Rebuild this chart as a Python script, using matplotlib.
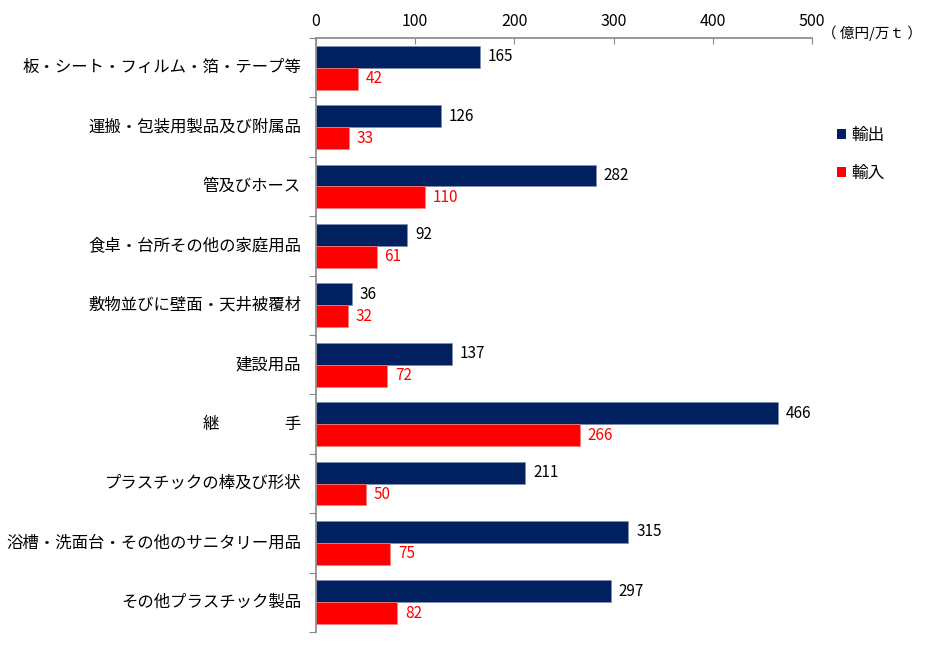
import numpy as np
import matplotlib
matplotlib.use('Agg')
import matplotlib.pyplot as plt
import matplotlib.patches as mpatches

plt.rcParams['font.family'] = ['Noto Sans CJK JP', 'DejaVu Sans']

categories = ['板・シート・フィルム・箔・テープ等', '運搬・包装用製品及び附属品', '管及びホース',
              '食卓・台所その他の家庭用品', '敷物並びに壁面・天井被覆材', '建設用品',
              '継　　　　手', 'プラスチックの棒及び形状', '浴槽・洗面台・その他のサニタリー用品',
              'その他プラスチック製品']
exports = [165, 126, 282, 92, 36, 137, 466, 211, 315, 297]
imports = [42, 33, 110, 61, 32, 72, 266, 50, 75, 82]
xticks = [0, 100, 200, 300, 400, 500]

C_EX = '#002060'; C_IM = '#ff0000'

fig = plt.figure(figsize=(9.27, 6.48), dpi=100)
ax = fig.add_axes([316/927, 1-632/648, (812-316)/927, (632-38)/648])

n = len(categories)
y = np.arange(n)
h = 0.37
ax.barh(y-h/2, exports, height=h, color=C_EX, edgecolor='#8090b0', linewidth=0.5)
ax.barh(y+h/2, imports, height=h, color=C_IM, edgecolor='#ff8080', linewidth=0.5)

for i in range(n):
    ax.text(exports[i]+8, y[i]-h/2, str(exports[i]), va='center', ha='left', fontsize=11, color='black')
    ax.text(imports[i]+8, y[i]+h/2, str(imports[i]), va='center', ha='left', fontsize=11, color=C_IM)

ax.set_xlim(0, 500)
ax.set_ylim(n-0.5, -0.5)
ax.xaxis.tick_top()
ax.set_xticks(xticks)
ax.set_xticklabels([str(v) for v in xticks], fontsize=11.5)
ax.tick_params(axis='x', direction='in', length=4, color='#888888', pad=6)
ax.set_yticks(np.arange(n+1)-0.5)
ax.set_yticklabels([])
ax.tick_params(axis='y', direction='out', length=5, color='#888888')
for i, c in enumerate(categories):
    ax.text(-15, y[i], c, ha='right', va='center', fontsize=11.8)

for s in ['right', 'bottom']:
    ax.spines[s].set_visible(False)
for s in ['top', 'left']:
    ax.spines[s].set_color('#888888')
    ax.spines[s].set_linewidth(1.2)

fig.text(822/927, 1-33/648, '（ 億円/万ｔ ）', ha='left', va='center', fontsize=10.5)

lh = [mpatches.Patch(facecolor=C_EX, label='輸出'), mpatches.Patch(facecolor=C_IM, label='輸入')]
fig.legend(handles=lh, loc='upper left', bbox_to_anchor=(822/927, 1-112/648), frameon=False,
           fontsize=12, handlelength=0.55, handleheight=0.55, handletextpad=0.3, labelspacing=1.25)

fig.savefig('out.png', dpi=100)
